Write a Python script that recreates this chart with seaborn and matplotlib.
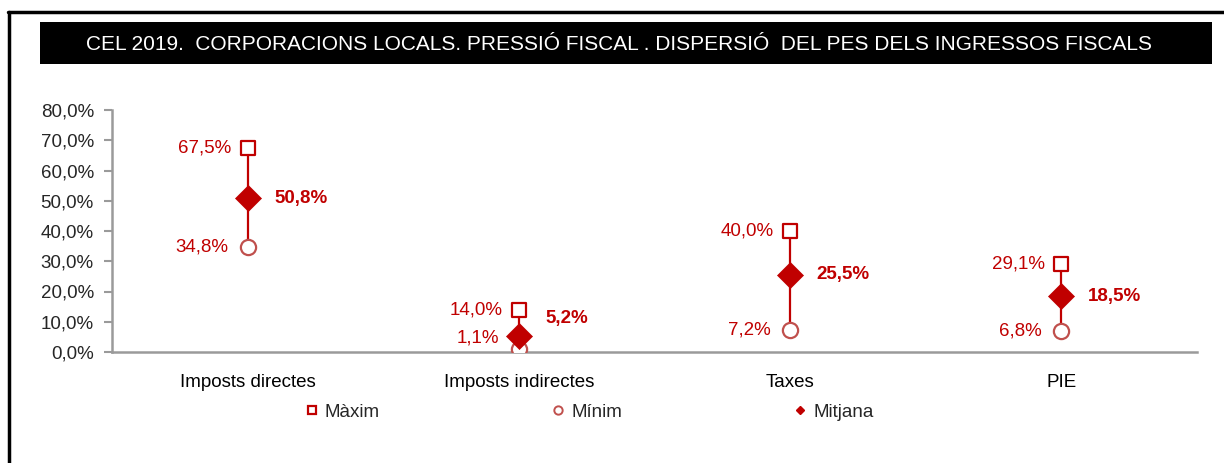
import numpy as np
import pandas as pd
import matplotlib
matplotlib.use('Agg')
import matplotlib.pyplot as plt
import seaborn as sns
from matplotlib.patches import Rectangle
from matplotlib.lines import Line2D
from matplotlib.ticker import FuncFormatter, FixedLocator

# data
categories = ['Imposts directes', 'Imposts indirectes', 'Taxes', 'PIE']
maxim = [67.5, 14.0, 40.0, 29.1]
minim = [34.8, 1.1, 7.2, 6.8]
mitjana = [50.8, 5.2, 25.5, 18.5]

title = 'CEL 2019.  CORPORACIONS LOCALS. PRESSIÓ FISCAL . DISPERSIÓ  DEL PES DELS INGRESSOS FISCALS'

df = pd.DataFrame({'cat': categories, 'Màxim': maxim, 'Mínim': minim, 'Mitjana': mitjana})

sns.set_style('white')
plt.rcParams['font.family'] = ['Liberation Sans', 'DejaVu Sans']

red = '#C00000'
red_light = '#C0504D'
grey = '#9A9A9A'

fig = plt.figure(figsize=(12.24, 4.63), dpi=100)
ax = fig.add_axes([112/1224, 1 - 352/463, (1197 - 112)/1224, (352 - 110)/463])

x = np.arange(len(categories))

# min-max lines
ax.vlines(x, df['Mínim'], df['Màxim'], color=red, lw=1.6, zorder=1)

sns.scatterplot(data=df, x='cat', y='Màxim', marker='s', s=115, facecolor='white',
                edgecolor=red, linewidth=1.6, ax=ax, zorder=3)
sns.scatterplot(data=df, x='cat', y='Mínim', marker='o', s=120, facecolor='white',
                edgecolor=red_light, linewidth=1.6, ax=ax, zorder=3)
sns.scatterplot(data=df, x='cat', y='Mitjana', marker='D', s=175, color=red,
                edgecolor=red, linewidth=0.5, ax=ax, zorder=4)

def pct(v):
    return f'{v:.1f}%'.replace('.', ',')

fs = 13.5
for i in range(len(categories)):
    ax.annotate(pct(maxim[i]), (i, maxim[i]), xytext=(-12, 0), textcoords='offset points',
                ha='right', va='center', color=red, fontsize=fs)
    dy = 8 if minim[i] < 3 else 0
    ax.annotate(pct(minim[i]), (i, minim[i]), xytext=(-14, dy), textcoords='offset points',
                ha='right', va='center', color=red, fontsize=fs)
    dy = 13 if mitjana[i] < 10 else 0
    ax.annotate(pct(mitjana[i]), (i, mitjana[i]), xytext=(19, dy), textcoords='offset points',
                ha='left', va='center', color=red, fontsize=fs, fontweight='bold')

ax.set_xlim(-0.5, len(categories) - 0.5)
ax.set_ylim(0, 80)
ax.yaxis.set_major_locator(FixedLocator(np.arange(0, 81, 10)))
ax.yaxis.set_major_formatter(FuncFormatter(lambda v, p: pct(v)))
ax.set_xticks(x)
ax.set_xticklabels(categories)
ax.set_xticks(np.arange(-0.5, len(categories)), minor=True)
ax.tick_params(axis='x', which='major', length=0, pad=16, labelsize=fs, colors='black')
ax.tick_params(axis='x', which='minor', length=6, width=1.5, color=grey, direction='out')
ax.tick_params(axis='y', length=6, width=1.5, color=grey, pad=7, labelsize=fs, direction='out', left=True)
ax.set_xlabel('')
ax.set_ylabel('')
sns.despine(ax=ax, top=True, right=True)
for s in ['left', 'bottom']:
    ax.spines[s].set_color(grey)
    ax.spines[s].set_linewidth(1.8)

# legend
handles = [
    Line2D([], [], ls='', marker='s', ms=6, mfc='white', mec=red, mew=1.6, label='Màxim'),
    Line2D([], [], ls='', marker='o', ms=6, mfc='white', mec=red_light, mew=1.4, label='Mínim'),
    Line2D([], [], ls='', marker='D', ms=4.5, mfc=red, mec=red, label='Mitjana'),
]
fig.legend(handles=handles, loc='center', bbox_to_anchor=(588/1224, 1 - 412/463), ncol=3,
           frameon=False, fontsize=fs, handletextpad=0.2, columnspacing=9.0, handlelength=1.0)

# title bar
fig.patches.append(Rectangle((40/1224, 1 - 64/463), 1172/1224, 42/463, transform=fig.transFigure,
                             facecolor='black', edgecolor='none', zorder=0))
fig.text(619/1224, 1 - 44/463, title, color='white', fontsize=15, ha='center', va='center')

# outer frame (left and top)
fig.add_artist(Line2D([9/1224, 9/1224], [0, 1 - 12/463], color='black', lw=2.5, transform=fig.transFigure))
fig.add_artist(Line2D([8/1224, 1], [1 - 12/463, 1 - 12/463], color='black', lw=2.5, transform=fig.transFigure))

fig.savefig('out.png', dpi=100)
